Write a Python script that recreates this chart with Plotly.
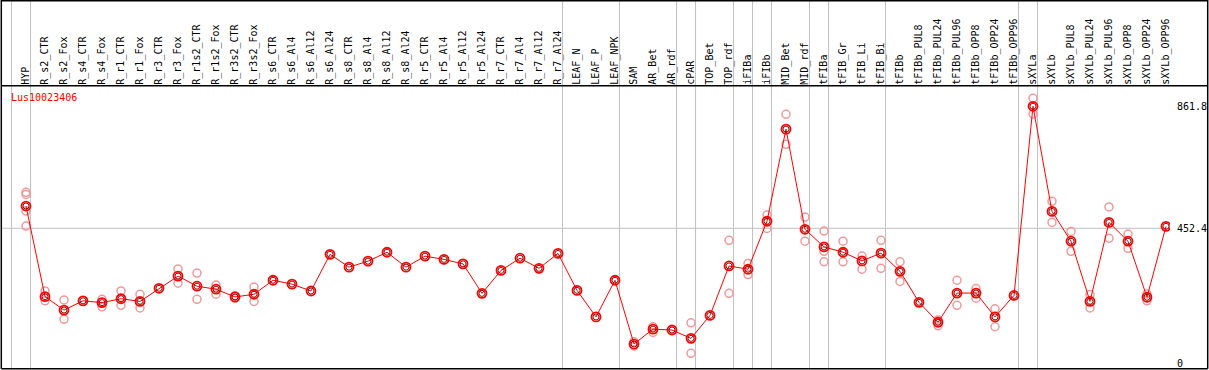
import plotly.graph_objects as go

# ---------------- data ----------------
categories = [
    "HYP", "R_s2_CTR", "R_s2_Fox", "R_s4_CTR", "R_s4_Fox", "R_r1_CTR", "R_r1_Fox",
    "R_r3_CTR", "R_r3_Fox", "R_r1s2_CTR", "R_r1s2_Fox", "R_r3s2_CTR", "R_r3s2_Fox",
    "R_s6_CTR", "R_s6_Al4", "R_s6_Al12", "R_s6_Al24", "R_s8_CTR", "R_s8_Al4",
    "R_s8_Al12", "R_s8_Al24", "R_r5_CTR", "R_r5_Al4", "R_r5_Al12", "R_r5_Al24",
    "R_r7_CTR", "R_r7_Al4", "R_r7_Al12", "R_r7_Al24", "LEAF_N", "LEAF_P", "LEAF_NPK",
    "SAM", "AR_Bet", "AR_rdf", "cPAR", "TOP_Bet", "TOP_rdf", "iFIBa", "iFIBb",
    "MID_Bet", "MID_rdf", "tFIBa", "tFIB_Gr", "tFIB_Li", "tFIB_Bi", "tFIBb",
    "tFIBb_PUL8", "tFIBb_PUL24", "tFIBb_PUL96", "tFIBb_OPP8", "tFIBb_OPP24",
    "tFIBb_OPP96", "sXYLa", "sXYLb", "sXYLb_PUL8", "sXYLb_PUL24", "sXYLb_PUL96",
    "sXYLb_OPP8", "sXYLb_OPP24", "sXYLb_OPP96",
]

mean_values = [
    527, 223, 178, 209, 203, 216, 207, 251, 292, 258, 248, 222, 231,
    278, 265, 242, 365, 322, 342, 372, 322, 359, 348, 333, 234,
    311, 352, 318, 368, 244, 155, 278,
    64, 114, 111, 83, 160, 326, 315, 476,
    785, 449, 390, 372, 343, 369, 308,
    204, 137, 235, 235, 155, 227,
    861.8, 509, 409, 207, 472, 409, 221, 459,
]

N = None
rep_a = [
    573, 242, 212, N, 214, 242, 231, N, 316, 302, 262, 226, 255,
    N, N, N, N, N, N, N, N, N, N, N, N,
    N, N, N, N, N, N, N,
    72, 122, N, 135, N, 412, 334, 497,
    835, 490, 443, 409, 359, 412, 340,
    N, 145, 278, 250, 182, N,
    889, 543, 442, 230, 524, 433, 232, N,
]
rep_b = [
    566, 209, 147, N, 189, 194, 185, N, 268, 214, 231, 217, 207,
    N, N, N, N, N, N, N, N, N, N, N, N,
    N, N, N, N, N, N, N,
    57, 103, N, 33, N, 234, 297, 452,
    734, 409, 375, 340, 315, 318, 274,
    N, 125, 194, 218, 122, N,
    836, 472, 375, 185, 419, 385, 209, N,
]
rep_c = [
    510, N, N, N, N, N, N, N, N, N, N, N, N,
    N, N, N, N, N, N, N, N, N, N, N, N,
    N, N, N, N, N, N, N,
    N, N, N, N, N, N, N, N,
    N, N, 340, N, N, N, N,
    N, N, N, N, N, N,
    N, N, N, N, N, N, N, N,
]
rep_d = [460] + [N] * 60

y_tick_values = [0, 452.4, 861.8]
y_tick_labels = ["0", "452.4", "861.8"]
gene_id = "Lus10023406"

# categories after which a group separator is drawn
group_ends = ["HYP", "R_r7_Al24", "LEAF_NPK", "AR_rdf", "cPAR", "TOP_rdf", "iFIBa",
              "iFIBb", "MID_rdf", "tFIBa", "tFIB_Bi", "tFIBb_OPP96", "sXYLa",
              "sXYLb_OPP96"]

# ---------------- layout geometry (pixels) ----------------
W, H = 1209, 370
PLOT_L, PLOT_R = 1.3, 1170.0
PLOT_T, PLOT_B = 85.7, 368.7
FRAME_R = 1207.7
X0_PX, X_STEP = 26.0, 19.0
Y0_PX, Y_SCALE = 363.1, 0.298

x_range = [(PLOT_L - X0_PX) / X_STEP, (PLOT_R - X0_PX) / X_STEP]
y_range = [(Y0_PX - PLOT_B) / Y_SCALE, (Y0_PX - PLOT_T) / Y_SCALE]

xs = list(range(len(categories)))
MONO = "DejaVu Sans Mono"
REP_COLOR = "#f09a9a"
GRID = "#c0c0c0"

fig = go.Figure()

for reps in (rep_a, rep_b, rep_c, rep_d):
    fig.add_trace(go.Scatter(
        x=xs, y=reps, mode="markers",
        marker=dict(symbol="circle-open", size=8, color=REP_COLOR, line=dict(width=1.5)),
        hoverinfo="skip", showlegend=False,
    ))

fig.add_trace(go.Scatter(
    x=xs, y=mean_values, mode="lines+markers",
    line=dict(color="#ff0000", width=1),
    marker=dict(symbol="circle-open", size=9, color="#ff0000", line=dict(width=1.8)),
    showlegend=False,
))
fig.add_trace(go.Scatter(
    x=xs, y=mean_values, mode="markers",
    marker=dict(symbol="circle-open", size=6, color="#700000", line=dict(width=0.9)),
    hoverinfo="skip", showlegend=False,
))

shapes = []
# group separators (full height)
sep_positions = [-1 + 0.24] + [categories.index(c) + 0.24 for c in group_ends]
for sx in sep_positions:
    shapes.append(dict(type="line", xref="x", yref="paper", x0=sx, x1=sx, y0=0, y1=1,
                       line=dict(color=GRID, width=1), layer="below"))
# horizontal reference line at the middle tick
shapes.append(dict(type="line", xref="x domain", yref="y", x0=0, x1=1,
                   y0=y_tick_values[1], y1=y_tick_values[1],
                   line=dict(color=GRID, width=1), layer="below"))


def px(x):
    return x / W


def py(y):
    return 1 - y / H


frame = dict(color="black", width=1.5)
shapes += [
    dict(type="line", xref="paper", yref="paper", x0=px(PLOT_L), x1=px(FRAME_R), y0=py(0.7), y1=py(0.7), line=frame),
    dict(type="line", xref="paper", yref="paper", x0=px(PLOT_L), x1=px(FRAME_R), y0=py(PLOT_T), y1=py(PLOT_T), line=frame),
    dict(type="line", xref="paper", yref="paper", x0=px(PLOT_L), x1=px(FRAME_R), y0=py(PLOT_B), y1=py(PLOT_B), line=frame),
    dict(type="line", xref="paper", yref="paper", x0=px(PLOT_L), x1=px(PLOT_L), y0=py(0), y1=py(PLOT_B), line=frame),
    dict(type="line", xref="paper", yref="paper", x0=px(FRAME_R), x1=px(FRAME_R), y0=py(0), y1=py(PLOT_B), line=frame),
]

fig.update_layout(
    width=W, height=H,
    margin=dict(l=0, r=0, t=0, b=0),
    paper_bgcolor="white", plot_bgcolor="white",
    showlegend=False,
    shapes=shapes,
    font=dict(family=MONO, size=10, color="black"),
    xaxis=dict(
        domain=[px(PLOT_L), px(PLOT_R)], range=x_range, side="top",
        tickmode="array", tickvals=xs, ticktext=categories, tickangle=-90,
        tickfont=dict(family=MONO, size=10, color="black"),
        showgrid=False, zeroline=False, showline=False, ticks="", automargin=False,
    ),
    yaxis=dict(
        domain=[py(PLOT_B), py(PLOT_T)], range=y_range, side="right",
        tickmode="array", tickvals=y_tick_values, ticktext=y_tick_labels,
        tickfont=dict(family=MONO, size=10, color="black"),
        showgrid=False, zeroline=False, showline=False, ticks="", automargin=False,
        ticklabelstandoff=6,
    ),
    annotations=[dict(
        text=gene_id, xref="paper", yref="paper", x=px(9), y=py(97),
        xanchor="left", yanchor="middle", showarrow=False,
        font=dict(family=MONO, size=10, color="#ff0000"),
    )],
)

fig.write_html(
    "out.html",
    config={"displayModeBar": False},
    post_script="document.body.style.margin='0';document.body.style.overflow='hidden';",
)
